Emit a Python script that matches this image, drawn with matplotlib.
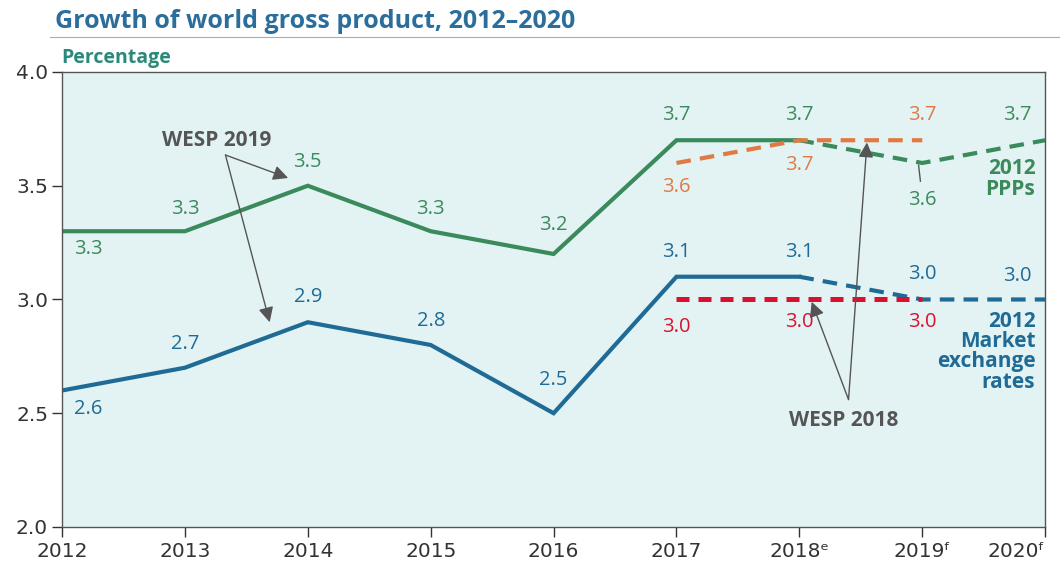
import matplotlib
matplotlib.use("Agg")
import matplotlib.pyplot as plt

# ---- data -------------------------------------------------------------
years = [2012, 2013, 2014, 2015, 2016, 2017, 2018, 2019, 2020]
year_labels = ["2012", "2013", "2014", "2015", "2016", "2017",
               "2018\u1d49", "2019\u1da0", "2020\u1da0"]

ppp_2019 = [3.3, 3.3, 3.5, 3.3, 3.2, 3.7, 3.7, 3.6, 3.7]      # WESP 2019, 2012 PPPs
mer_2019 = [2.6, 2.7, 2.9, 2.8, 2.5, 3.1, 3.1, 3.0, 3.0]      # WESP 2019, market exchange rates
ppp_2018 = [3.6, 3.7, 3.7]                                    # WESP 2018, 2017-2019
mer_2018 = [3.0, 3.0, 3.0]
years_2018 = [2017, 2018, 2019]
n_actual = 7   # 2012..2018 solid, 2018..2020 dashed

GREEN = "#3b8a5c"
BLUE = "#1f6b96"
ORANGE = "#e07a45"
RED = "#d9112f"
GREY = "#555555"
BG = "#e3f3f4"

plt.rcParams["font.family"] = ["Open Sans", "DejaVu Sans"]
NARROW = ["Liberation Sans Narrow", "DejaVu Sans"]

fig = plt.figure(figsize=(10.6, 5.65), dpi=100)
ax = fig.add_axes([0.0585, 0.0673, 0.9275, 0.8053])
ax.set_facecolor(BG)

# lines
dash = (0, (3.5, 2.2))
ax.plot(years[:n_actual], ppp_2019[:n_actual], color=GREEN, lw=3, solid_joinstyle="miter")
ax.plot(years[n_actual - 1:], ppp_2019[n_actual - 1:], color=GREEN, lw=3, ls=dash)
ax.plot(years[:n_actual], mer_2019[:n_actual], color=BLUE, lw=3, solid_joinstyle="miter")
ax.plot(years[n_actual - 1:], mer_2019[n_actual - 1:], color=BLUE, lw=3, ls=dash)
ax.plot(years_2018, ppp_2018, color=ORANGE, lw=3, ls=dash)
ax.plot(years_2018, mer_2018, color=RED, lw=3.6, ls=(0, (2.6, 1.8)))

ax.set_xlim(2012, 2020)
ax.set_ylim(2.0, 4.0)
ax.set_yticks([2.0, 2.5, 3.0, 3.5, 4.0])
ax.set_yticklabels([f"{v:.1f}" for v in [2.0, 2.5, 3.0, 3.5, 4.0]])
ax.set_xticks(years)
ax.set_xticklabels(year_labels)
ax.tick_params(axis="both", labelsize=14.5, colors="#333333", length=7, width=1, direction="out")
ax.tick_params(axis="x", pad=4)
ax.tick_params(axis="y", pad=3)
for t in ax.get_xticklabels() + ax.get_yticklabels():
    t.set_family(NARROW)
ax.get_xticklabels()[-1].set_ha("right")
ax.get_xticklabels()[-1].set_x(2020.1)
for s in ax.spines.values():
    s.set_color("#555555")
    s.set_linewidth(1)

# value labels: (x offset, y offset) in points
def label(x, y, txt, color, dx, dy, ha="center"):
    ax.annotate(txt, (x, y), xytext=(dx, dy), textcoords="offset points",
                ha=ha, va="center", color=color, fontsize=14.5)

ppp_off = [(19, -13), (0, 16), (0, 17), (0, 16), (0, 21), (0, 18), (0, 18), (0, -27), (-20, 18)]
mer_off = [(19, -13), (0, 17), (0, 18), (0, 17), (0, 24), (0, 18), (0, 18), (0, 18), (-20, 17)]
for i, yr in enumerate(years):
    label(yr, ppp_2019[i], f"{ppp_2019[i]:.1f}", GREEN, *ppp_off[i])
    label(yr, mer_2019[i], f"{mer_2019[i]:.1f}", BLUE, *mer_off[i])
ax.plot([2018.97, 2018.985], [3.59, 3.52], color=GREY, lw=1)

o18_off = [(0, -17), (0, -18), (0, 18)]
r18_off = [(0, -20), (0, -16), (0, -16)]
for i, yr in enumerate(years_2018):
    label(yr, ppp_2018[i], f"{ppp_2018[i]:.1f}", ORANGE, *o18_off[i])
    label(yr, mer_2018[i], f"{mer_2018[i]:.1f}", RED, *r18_off[i])

# series names at the right edge
ax.text(2019.92, 3.53, "2012\nPPPs", color=GREEN, fontsize=15, fontweight="bold",
        ha="right", va="center", linespacing=0.95)
ax.text(2019.92, 2.77, "2012\nMarket\nexchange\nrates", color=BLUE, fontsize=15,
        fontweight="bold", ha="right", va="center", linespacing=0.95)

# WESP call-outs
arrow = dict(arrowstyle="-|>,head_length=0.9,head_width=0.45", color=GREY, lw=1,
             shrinkA=0, shrinkB=0)
ax.text(2013.26, 3.7, "WESP 2019", color=GREY, fontsize=15, fontweight="bold", ha="center", va="center")
ax.annotate("", xy=(2013.84, 3.534), xytext=(2013.33, 3.635), arrowprops=arrow)
ax.annotate("", xy=(2013.69, 2.90), xytext=(2013.33, 3.635), arrowprops=arrow)
ax.text(2018.36, 2.47, "WESP 2018", color=GREY, fontsize=15, fontweight="bold", ha="center", va="center")
ax.annotate("", xy=(2018.55, 3.69), xytext=(2018.4, 2.56), arrowprops=arrow)
ax.annotate("", xy=(2018.1, 2.99), xytext=(2018.4, 2.56), arrowprops=arrow)

# title block
fig.text(0.052, 0.962, "Growth of world gross product, 2012\u20132020", color="#2c6e9b",
         fontsize=18, fontweight="bold", ha="left", va="center")
fig.add_artist(plt.Line2D([0.047, 1.0], [0.934, 0.934], color="#8ab4cf", lw=0.8))
fig.text(0.058, 0.898, "Percentage", color="#2a8a7a", fontsize=14, fontweight="bold",
         ha="left", va="center")

fig.savefig("out.png", dpi=100, facecolor="white")
